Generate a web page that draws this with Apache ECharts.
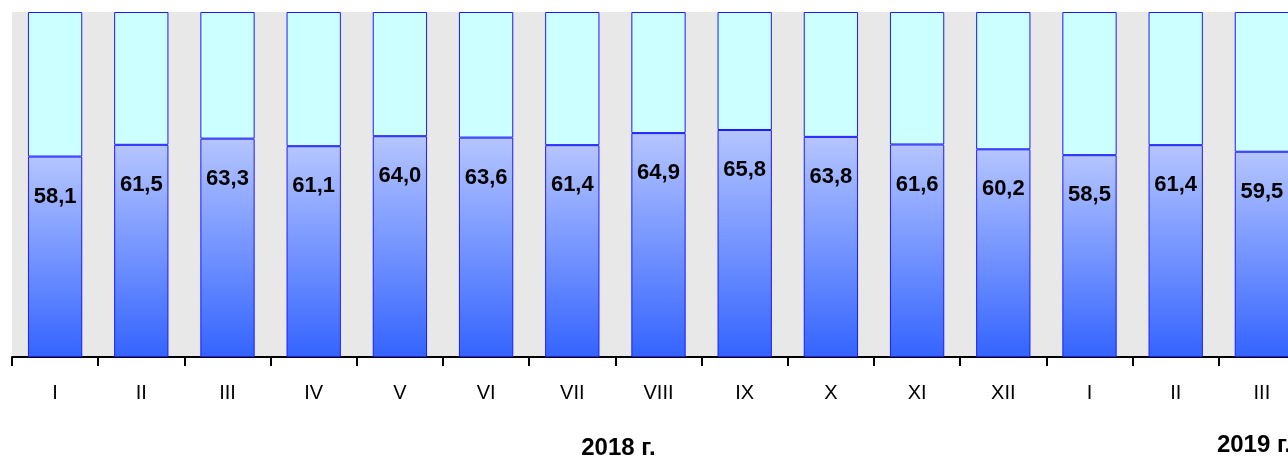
<!DOCTYPE html>
<html>
<head>
<meta charset="utf-8">
<script src="https://cdn.jsdelivr.net/npm/echarts@6/dist/echarts.min.js"></script>
<style>
html,body{margin:0;padding:0;overflow:hidden;background:#fff;}
#c{width:1310px;height:459px;}
</style>
</head>
<body>
<div id="c"></div>
<script>
const categories = ['I','II','III','IV','V','VI','VII','VIII','IX','X','XI','XII','I','II','III'];
const shareValues = [58.1, 61.5, 63.3, 61.1, 64.0, 63.6, 61.4, 64.9, 65.8, 63.8, 61.6, 60.2, 58.5, 61.4, 59.5];
const yearLabels = ['2018 г.', '2019 г.'];
const restValues = shareValues.map(v => +(100 - v).toFixed(1));

const chart = echarts.init(document.getElementById('c'), null, {renderer: 'canvas'});
const font = '"Liberation Sans", Arial, sans-serif';
chart.setOption({
  animation: false,
  grid: {left: 12, right: 5, top: 12, bottom: 102, show: true, backgroundColor: '#e8e8e8', borderWidth: 0},
  xAxis: {
    type: 'category', data: categories,
    axisLine: {lineStyle: {color: '#000', width: 2}},
    axisTick: {show: true, length: 9, lineStyle: {color: '#000', width: 2}},
    axisLabel: {color: '#000', fontSize: 20, fontFamily: font, margin: 26}
  },
  yAxis: {type: 'value', min: 0, max: 100, show: false, splitLine: {show: false}},
  series: [
    {
      type: 'bar', stack: 's', data: shareValues, barWidth: '63%',
      itemStyle: {
        borderColor: '#1a1aff', borderWidth: 1,
        color: new echarts.graphic.LinearGradient(0, 0, 0, 1, [
          {offset: 0, color: '#b5c5ff'},
          {offset: 1, color: '#3464ff'}
        ])
      },
      label: {
        show: true, position: 'insideTop', distance: 29,
        formatter: p => p.value.toFixed(1).replace('.', ','),
        color: '#000', fontSize: 22, fontWeight: 'bold', fontFamily: font
      }
    },
    {
      type: 'bar', stack: 's', data: restValues, barWidth: '63%',
      itemStyle: {color: '#ccffff', borderColor: '#1a1aff', borderWidth: 1}
    }
  ]
});

// Year labels placed from the category axis scale
const b2018 = (chart.convertToPixel({xAxisIndex: 0}, 6) + chart.convertToPixel({xAxisIndex: 0}, 7)) / 2;
const c2019 = chart.convertToPixel({xAxisIndex: 0}, 14);
chart.setOption({
  graphic: [
    {type: 'text', x: b2018 + 3, y: 448, style: {text: yearLabels[0], fill: '#000', font: 'bold 24px ' + font, align: 'center', verticalAlign: 'middle'}},
    {type: 'text', x: c2019 - 45, y: 445, style: {text: yearLabels[1], fill: '#000', font: 'bold 24px ' + font, align: 'left', verticalAlign: 'middle'}}
  ]
});
</script>
</body>
</html>
